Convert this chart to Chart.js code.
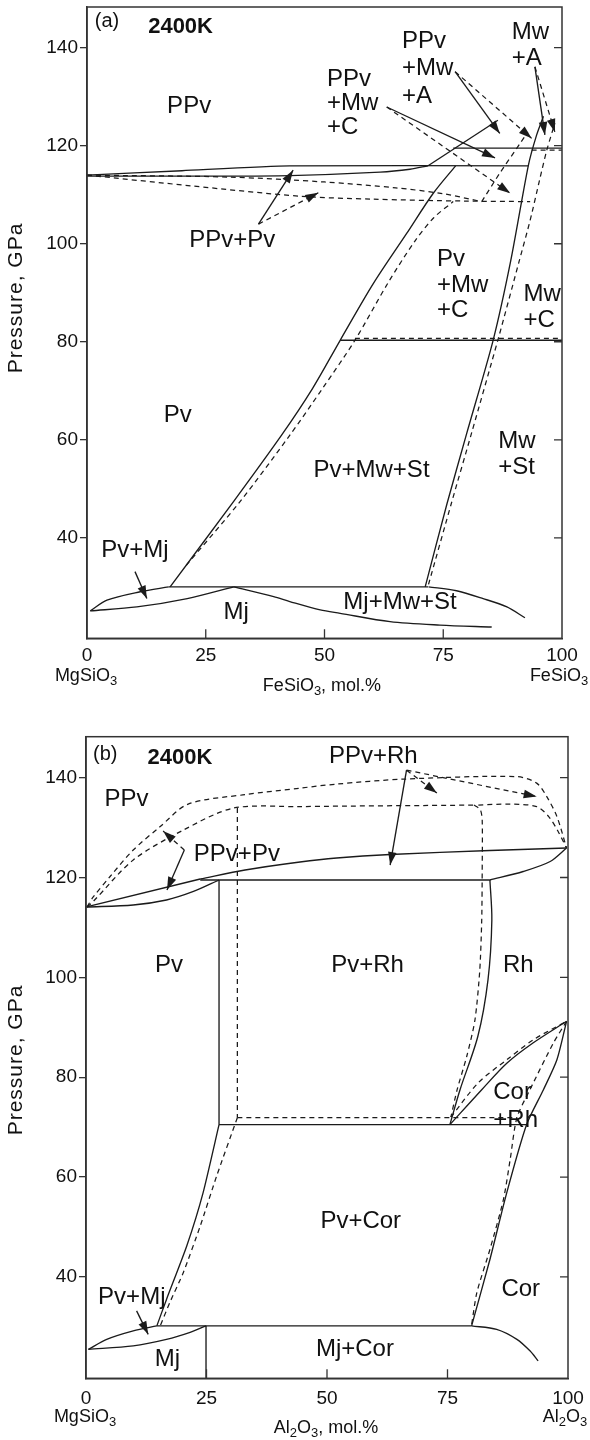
<!DOCTYPE html>
<html>
<head>
<meta charset="utf-8">
<title>Phase relations at 2400K</title>
<script src="https://cdn.jsdelivr.net/npm/chart.js@4.4.1/dist/chart.umd.min.js"></script>
<style>
html,body{margin:0;padding:0;background:#ffffff;}
#page{position:relative;width:590px;height:1440px;overflow:hidden;background:#fff;}
canvas{position:absolute;left:0;display:block;}
#ca{top:0;} #cb{top:720px;}
</style>
</head>
<body>
<div id="page">
<canvas id="ca" width="590" height="720"></canvas>
<canvas id="cb" width="590" height="720"></canvas>
</div>
<script>
// ---------- axis ticks ----------
const xTicks = [0, 25, 50, 75, 100];
const yTicks = [40, 60, 80, 100, 120, 140];

// ---------- panel (a): MgSiO3 - FeSiO3 ----------
// solid boundaries
const aPPvUpper      = [[0,114.0],[20,114.9],[42.7,115.9],[92.9,115.9]];
const aPvLensLower   = [[0,113.8],[25,113.8],[42.7,113.9],[61.7,114.6],[68,115.2],[71.8,115.9]];
const aPPvMwLine     = [[71.8,115.9],[86.5,125.2]];
const aMwA3Phase     = [[77.1,119.5],[100,119.5]];
const aMwBoundary    = [[96.1,126.0],[94.6,122.0],[92.9,115.9],[89.2,96.5],[85.5,80.3],[80.0,61.5],[75.8,47.0],[71.2,30.0]];
const aPvBoundary    = [[17.5,30.0],[31.0,47.6],[41.0,61.0],[47.5,70.5],[53.3,80.3],[60.3,91.9],[67.3,102.1],[72.9,110.3],[77.6,115.9]];
const aMwC3Phase     = [[53.3,80.3],[100,80.3]];
const aMj3Phase      = [[17.2,30.0],[71.8,30.0]];
const aMjMwSt        = [[71.9,30.0],[77.8,29.2],[83.4,27.6],[88.4,25.9],[92.2,23.7]];
const aPvMjUpper     = [[0.7,25.1],[4.2,27.3],[11.2,29.0],[17.2,30.0]];
const aPvMjLower     = [[0.7,25.1],[10.5,25.9],[21.1,27.6],[30.9,30.0]];
const aMjRight       = [[30.9,30.0],[39.3,28.0],[42.7,27.0],[49.1,25.3],[53.3,24.6],[63.8,22.9],[74.3,22.2],[85.2,21.8]];
// dashed boundaries
const aPPvUpperDash  = [[0,114.0],[30,113.6],[50,112.6],[65,111.4],[75,110.2],[83.1,108.6]];
const aPvLowerDash   = [[0,114.0],[22,111.8],[44.8,109.7],[60,109.1],[80,108.7],[93.3,108.6]];
const aPvBoundaryDash= [[20.9,34.4],[32.3,47.5],[42.6,60.8],[49.6,70.5],[56.4,80.3],[63.3,91.9],[69.0,100.5],[73.0,105.3],[77.1,108.6]];
const aPPvMwDash     = [[83.1,108.6],[86.9,114.4],[91.2,120.5],[92.8,122.8]];
const aMwBoundaryDash= [[71.9,30.5],[76.7,47.0],[81.0,61.5],[86.6,80.7],[91.0,96.5],[93.3,104.8],[95.4,113.5],[96.8,119.1],[98.5,124.6]];
const aMwA3PhaseDash = [[93.6,119.1],[100,119.1]];
const aMwC3PhaseDash = [[56.4,80.7],[100,80.7]];
// arrows (tail -> tip)
const aArrowPPvPv     = [[36.1,104.0],[43.4,115.0]];
const aArrowPPvPvDash = [[36.1,104.0],[48.7,110.4]];
const aArrowC         = [[63.1,127.9],[85.9,117.5]];
const aArrowCDash     = [[63.1,127.9],[89.1,110.3]];
const aArrowA         = [[77.5,135.1],[86.9,122.5]];
const aArrowADash     = [[77.5,135.1],[93.6,121.5]];
const aArrowMwA       = [[94.3,136.1],[96.4,122.2]];
const aArrowMwADash   = [[94.3,136.1],[98.5,122.8]];
const aArrowPvMj      = [[10.1,33.1],[12.6,27.6]];
// field labels [text, x, y, align, style]
const aLabels = [
  ['(a)',4.2,145.4,'center','tag'], ['2400K',19.7,144.3,'center','bold'],
  ['PPv',21.5,128.1,'center'], ['PPv+Pv',30.6,100.7,'center'],
  ['PPv',50.5,133.6,'left'], ['+Mw',50.5,128.7,'left'], ['+C',50.5,123.7,'left'],
  ['PPv',66.3,141.2,'left'], ['+Mw',66.3,135.8,'left'], ['+A',66.3,130.1,'left'],
  ['Mw',89.4,143.1,'left'], ['+A',89.4,137.8,'left'],
  ['Pv',73.7,96.9,'left'], ['+Mw',73.7,91.6,'left'], ['+C',73.7,86.5,'left'],
  ['Mw',91.9,89.7,'left'], ['+C',91.9,84.4,'left'],
  ['Pv',19.1,65.0,'center'], ['Pv+Mw+St',59.9,53.8,'center'],
  ['Mw',86.6,59.6,'left'], ['+St',86.6,54.3,'left'],
  ['Pv+Mj',10.1,37.5,'center'], ['Mj',31.4,24.8,'center'], ['Mj+Mw+St',65.9,26.9,'center']
];

// ---------- panel (b): MgSiO3 - Al2O3 ----------
const bLensUpper     = [[0.1,114.1],[23.7,119.7]];
const bPPvRh         = [[23.7,119.7],[33,121.5],[44.4,123.1],[52,123.9],[63.1,124.6],[83.8,125.4],[99.7,125.9]];
const bLensLower     = [[0.1,114.1],[9.8,114.5],[16.7,115.5],[22.3,117.2],[27.6,119.5]];
const b3Phase119     = [[23.7,119.5],[83.8,119.5]];
const bPvVertical    = [[27.6,119.5],[27.6,70.5]];
const b3Phase70      = [[27.6,70.5],[91.4,70.5]];
const bRhUpper       = [[83.8,119.5],[90.7,121.2],[96.3,123.2],[99.7,125.9]];
const bRhBoundary    = [[83.8,119.5],[84.2,111.5],[83.4,99.5],[81.3,88.2],[77.6,77.5],[75.5,70.5]];
const bCorRhLens     = [[75.5,70.5],[82.1,77.5],[87.3,82.8],[92.8,86.9],[99.7,91.2]];
const bCorBoundary   = [[99.7,91.2],[97.7,83.5],[94.9,77.5],[91.4,70.5],[87.3,56.9],[83.8,43.5],[80.0,30.2]];
const bMj3Phase      = [[14.7,30.2],[80.0,30.2]];
const bPvCorBoundary = [[14.7,30.2],[16.7,35.5],[20.9,46.2],[24.3,56.9],[27.6,70.5]];
const bPvMjUpper     = [[0.5,25.5],[4.3,27.5],[9.8,29.2],[14.7,30.2]];
const bPvMjLower     = [[0.5,25.5],[9.8,26.2],[16.7,27.5],[21.6,28.9],[24.9,30.2]];
const bMjVertical    = [[24.9,30.2],[24.9,19.7]];
const bMjCor         = [[80.0,30.2],[85.2,29.5],[89.4,27.5],[92.1,25.2],[93.8,23.2]];
// dashed
const bOuterDash     = [[0.2,114.1],[1.5,116.1],[5.0,120.2],[9.8,125.5],[15.4,130.2],[21.2,134.7],[33,136.6],[44.4,137.9],[51.9,138.7],[65.8,139.7],[89.4,140.2],[93.5,138.9],[95.6,136.2],[97.7,132.2],[99.7,125.9]];
const bInnerDash     = [[0.2,114.1],[1.5,115.2],[9.8,123.5],[20.2,129.5],[30.6,133.9],[44.4,134.2],[80.5,134.5]];
const bRhUpperDash   = [[81.4,134.5],[88.0,134.7],[93.5,134.2],[96.0,132.2],[97.9,129.3],[99.7,125.9]];
const bRhDash        = [[80.5,134.5],[81.8,133.6],[82.2,131.5],[82.2,121.5],[82.1,111.5],[81.7,101.5],[80.7,91.5],[79.0,84.2],[77.0,77.5],[75.7,72.0]];
const bVerticalDash  = [[31.4,133.9],[31.4,71.9]];
const b3Phase72Dash  = [[31.4,71.9],[89.4,71.9]];
const bPvCorDash     = [[31.4,71.9],[27.1,60.2],[23.7,50.2],[20.2,40.9],[17.4,34.9],[15.4,30.2]];
const bCorDash       = [[99.7,91.2],[97.0,86.9],[92.1,77.5],[89.4,71.9],[88.0,63.5],[86.6,55.5],[83.8,45.5],[81.1,36.9],[80.0,30.4]];
const bCorRhLensDash = [[75.7,72.0],[81.4,78.9],[87.3,83.5],[92.8,87.5],[99.7,91.2]];
// arrows
const bArrowPv       = [[20.4,125.5],[16.8,117.5]];
const bArrowPvDash   = [[20.4,125.5],[16.0,129.3]];
const bArrowRh       = [[66.5,141.5],[63.1,122.5]];
const bArrowRhDash1  = [[66.5,141.5],[72.8,136.9]];
const bArrowRhDash2  = [[66.5,141.5],[93.5,136.2]];
const bArrowPvMj     = [[10.5,33.2],[12.9,28.5]];
const bLabels = [
  ['(b)',4.0,144.6,'center','tag'], ['2400K',19.5,144.0,'center','bold'],
  ['PPv',8.4,135.6,'center'], ['PPv+Pv',31.3,124.7,'center'], ['PPv+Rh',59.6,144.2,'center'],
  ['Pv',17.2,102.4,'center'], ['Pv+Rh',58.4,102.5,'center'], ['Rh',89.7,102.5,'center'],
  ['Cor',84.5,76.9,'left'], ['+Rh',84.5,71.4,'left'],
  ['Pv+Cor',57.0,51.2,'center'], ['Cor',90.2,37.5,'center'],
  ['Pv+Mj',9.5,35.9,'center'], ['Mj',16.9,23.4,'center'], ['Mj+Cor',55.8,25.5,'center']
];

// ---------- helpers ----------
const FONT = '"Liberation Sans", Arial, Helvetica, sans-serif';
const INK = '#1b1b1b';
const DASH = [5, 4];

function ds(points, extra) {
  return Object.assign({
    data: points.map(p => ({x: p[0], y: p[1]})),
    showLine: true, borderColor: INK, backgroundColor: INK, borderWidth: 1.35,
    pointRadius: 0, pointHoverRadius: 0, pointHitRadius: 0, fill: false, tension: 0
  }, extra || {});
}
const solid  = (p, t) => ds(p, {tension: t || 0});
const dashed = (p, t) => ds(p, {tension: t || 0, borderDash: DASH, borderWidth: 1.25});
const arrow  = (p, isDash) => ds(p, {arrow: true, borderDash: isDash ? DASH : [], borderWidth: isDash ? 1.25 : 1.35});

function drawRich(ctx, parts, cx, cy, size, align) {
  const big = size + 'px ' + FONT, small = Math.round(size * 0.72) + 'px ' + FONT;
  let w = 0;
  parts.forEach(([t, s]) => { ctx.font = s ? small : big; w += ctx.measureText(t).width; });
  let x = align === 'center' ? cx - w / 2 : (align === 'right' ? cx - w : cx);
  ctx.textAlign = 'left'; ctx.textBaseline = 'middle';
  parts.forEach(([t, s]) => {
    ctx.font = s ? small : big;
    ctx.fillText(t, x, cy + (s ? size * 0.32 : 0));
    x += ctx.measureText(t).width;
  });
}

const arrowPlugin = {
  id: 'arrowHeads',
  afterDatasetsDraw(chart) {
    const ctx = chart.ctx;
    chart.data.datasets.forEach((d, i) => {
      if (!d.arrow) return;
      const pts = chart.getDatasetMeta(i).data;
      const a = pts[pts.length - 2], b = pts[pts.length - 1];
      const ang = Math.atan2(b.y - a.y, b.x - a.x);
      const L = 13, W = 4.3;
      const bx = b.x - L * Math.cos(ang), by = b.y - L * Math.sin(ang);
      ctx.save();
      ctx.fillStyle = INK;
      ctx.beginPath();
      ctx.moveTo(b.x, b.y);
      ctx.lineTo(bx + W * Math.sin(ang), by - W * Math.cos(ang));
      ctx.lineTo(bx - W * Math.sin(ang), by + W * Math.cos(ang));
      ctx.closePath();
      ctx.fill();
      ctx.restore();
    });
  }
};

function makeOverlay(cfg) {
  return {
    id: 'overlay',
    afterDraw(chart) {
      const {ctx, chartArea: ca, scales: {x, y}} = chart;
      ctx.save();
      // frame and inward ticks
      ctx.strokeStyle = '#333'; ctx.lineWidth = 1.5;
      ctx.strokeRect(ca.left, ca.top, ca.right - ca.left, ca.bottom - ca.top);
      ctx.lineWidth = 1.3;
      ctx.beginPath();
      yTicks.forEach(v => { const py = y.getPixelForValue(v); ctx.moveTo(ca.right - 8, py); ctx.lineTo(ca.right, py); });
      xTicks.slice(1, -1).forEach(v => { const px = x.getPixelForValue(v); ctx.moveTo(px, ca.bottom - 9); ctx.lineTo(px, ca.bottom); });
      ctx.stroke();
      // field labels
      ctx.fillStyle = '#111';
      cfg.labels.forEach(([t, vx, vy, align, style]) => {
        ctx.font = style === 'bold' ? 'bold 22px ' + FONT : (style === 'tag' ? '20px ' + FONT : '24px ' + FONT);
        ctx.textAlign = align; ctx.textBaseline = 'middle';
        ctx.fillText(t, x.getPixelForValue(vx), y.getPixelForValue(vy));
      });
      // y axis title
      ctx.save();
      ctx.translate(16, cfg.yTitleY);
      ctx.rotate(-Math.PI / 2);
      ctx.font = '21px ' + FONT; ctx.textAlign = 'center'; ctx.textBaseline = 'middle';
      try { ctx.letterSpacing = '1px'; } catch (e) {}
      ctx.fillText('Pressure, GPa', 0, 0);
      try { ctx.letterSpacing = '0px'; } catch (e) {}
      ctx.restore();
      // end-member and axis titles
      drawRich(ctx, [['MgSiO', 0], ['3', 1]], x.getPixelForValue(0) - 1, cfg.endY, 18, 'center');
      drawRich(ctx, cfg.rightParts, x.getPixelForValue(100) - 3, cfg.endY, 18, 'center');
      drawRich(ctx, cfg.titleParts, cfg.titleX, cfg.titleY, 18, 'center');
      ctx.restore();
    }
  };
}

function buildChart(id, datasets, cfg) {
  return new Chart(document.getElementById(id), {
    type: 'scatter',
    data: {datasets: datasets},
    options: {
      responsive: false, animation: false, devicePixelRatio: 1,
      layout: {padding: {left: 0, right: cfg.padRight, top: cfg.padTop, bottom: 0}},
      plugins: {legend: {display: false}, tooltip: {enabled: false}},
      events: [],
      scales: {
        x: {
          type: 'linear', min: 0, max: 100,
          afterBuildTicks: s => { s.ticks = xTicks.map(v => ({value: v})); },
          afterFit: s => { s.height = cfg.xHeight; s.paddingLeft = 0; s.paddingRight = 0; },
          grid: {display: false},
          border: {display: true, color: '#333', width: 1.5},
          ticks: {color: '#111', font: {family: FONT, size: 19}, padding: cfg.xTickPad, maxRotation: 0, autoSkip: false}
        },
        y: {
          type: 'linear', min: cfg.ymin, max: cfg.ymax,
          afterBuildTicks: s => { s.ticks = yTicks.map(v => ({value: v})); },
          afterFit: s => { s.width = cfg.yWidth; s.paddingTop = 0; s.paddingBottom = 0; },
          grid: {display: true, drawOnChartArea: false, drawTicks: true, tickLength: 7, color: '#333', lineWidth: 1.3},
          border: {display: true, color: '#333', width: 1.5},
          ticks: {color: '#111', font: {family: FONT, size: 19}, padding: 2}
        }
      }
    },
    plugins: [arrowPlugin, makeOverlay(cfg)]
  });
}

const aDatasets = [
  solid(aPPvUpper, 0.2), solid(aPvLensLower, 0.3), solid(aPPvMwLine), solid(aMwA3Phase),
  solid(aMwBoundary, 0.25), solid(aPvBoundary, 0.3), solid(aMwC3Phase), solid(aMj3Phase),
  solid(aMjMwSt, 0.3), solid(aPvMjUpper, 0.3), solid(aPvMjLower, 0.3), solid(aMjRight, 0.3),
  dashed(aPPvUpperDash, 0.3), dashed(aPvLowerDash, 0.3), dashed(aPvBoundaryDash, 0.3),
  dashed(aPPvMwDash, 0.2), dashed(aMwBoundaryDash, 0.25), dashed(aMwA3PhaseDash), dashed(aMwC3PhaseDash),
  arrow(aArrowPPvPv), arrow(aArrowPPvPvDash, true), arrow(aArrowC), arrow(aArrowCDash, true),
  arrow(aArrowA), arrow(aArrowADash, true), arrow(aArrowMwA), arrow(aArrowMwADash, true), arrow(aArrowPvMj)
];

const bDatasets = [
  solid(bLensUpper), solid(bPPvRh, 0.3), solid(bLensLower, 0.3), solid(b3Phase119), solid(bPvVertical),
  solid(b3Phase70), solid(bRhUpper, 0.3), solid(bRhBoundary, 0.3), solid(bCorRhLens, 0.3),
  solid(bCorBoundary, 0.25), solid(bMj3Phase), solid(bPvCorBoundary, 0.2), solid(bPvMjUpper, 0.3),
  solid(bPvMjLower, 0.3), solid(bMjVertical), solid(bMjCor, 0.3),
  dashed(bOuterDash, 0.3), dashed(bInnerDash, 0.3), dashed(bRhUpperDash, 0.3), dashed(bRhDash, 0.25),
  dashed(bVerticalDash), dashed(b3Phase72Dash), dashed(bPvCorDash, 0.2), dashed(bCorDash, 0.25),
  dashed(bCorRhLensDash, 0.3),
  arrow(bArrowPv), arrow(bArrowPvDash, true), arrow(bArrowRh), arrow(bArrowRhDash1, true),
  arrow(bArrowRhDash2, true), arrow(bArrowPvMj)
];

buildChart('ca', aDatasets, {
  padRight: 28, padTop: 7, xHeight: 81.7, yWidth: 87, ymin: 19.5, ymax: 148.3, xTickPad: -2,
  labels: aLabels, yTitleY: 298, endY: 676,
  rightParts: [['FeSiO', 0], ['3', 1]],
  titleParts: [['FeSiO', 0], ['3', 1], [', mol.%', 0]], titleX: 322, titleY: 686
});
buildChart('cb', bDatasets, {
  padRight: 22, padTop: 16.7, xHeight: 61.7, yWidth: 86, ymin: 19.7, ymax: 148.2, xTickPad: 1.5,
  labels: bLabels, yTitleY: 340, endY: 697,
  rightParts: [['Al', 0], ['2', 1], ['O', 0], ['3', 1]],
  titleParts: [['Al', 0], ['2', 1], ['O', 0], ['3', 1], [', mol.%', 0]], titleX: 326, titleY: 708
});
</script>
</body>
</html>
